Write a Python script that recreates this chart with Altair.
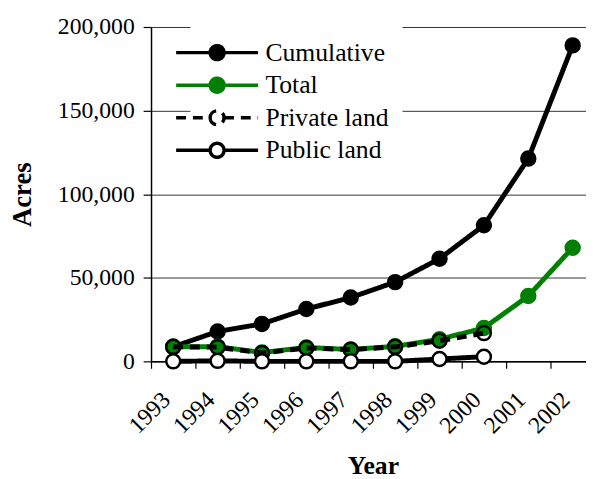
import altair as alt
import pandas as pd

years = ["1993", "1994", "1995", "1996", "1997", "1998", "1999", "2000", "2001", "2002"]
series_names = ["Cumulative", "Total", "Private land", "Public land"]
cumulative = [8700, 17900, 22400, 31300, 38200, 47400, 61400, 81400, 121300, 189000]
total = [8700, 8800, 5300, 8300, 7100, 9000, 13200, 20000, 39100, 68000]
private_land = [8700, 8500, 5000, 8000, 7000, 8700, 12300, 16900]   # 1993-2000
public_land = [0, 300, 0, 0, 0, 0, 1400, 2800]                       # 1993-2000

stroke_colors = ["#000000", "#008000", "#000000", "#000000"]
fill_colors = ["#000000", "#008000", "transparent", "#ffffff"]
dash_styles = [[1, 0], [1, 0], [10, 7], [1, 0]]

rows = []
for name, vals in zip(series_names, [cumulative, total, private_land, public_land]):
    for yr, v in zip(years, vals):
        rows.append({"Year": yr, "Series": name, "Acres": v})
df = pd.DataFrame(rows)

FONT = "'Liberation Serif', 'Times New Roman', serif"
legend_path = ("M-5,0L-0.85,0M0.85,0L5,0"
               "M-0.85,0A0.85,0.85,0,1,0,0.85,0A0.85,0.85,0,1,0,-0.85,0Z")

legend = alt.Legend(
    title=None, orient="none", legendX=40, legendY=-1,
    symbolType=legend_path, symbolSize=276, symbolStrokeWidth=3.5,
    labelFont=FONT, labelFontSize=26, labelColor="black", labelOffset=36,
    rowPadding=3, padding=14, fillColor="white",
)

x_enc = alt.X(
    "Year:O",
    scale=alt.Scale(type="band", paddingInner=0, paddingOuter=0, range=[0, 450]),
    axis=alt.Axis(
        title="Year", titleFont=FONT, titleFontSize=26, titleFontWeight="bold",
        titleColor="black", titleBaseline="middle", titleY=106,
        labelFont=FONT, labelFontSize=24, labelColor="black", labelAngle=-45,
        labelAlign="right", labelBaseline="middle", labelPadding=28, labelOffset=-7,
        tickBand="extent", tickSize=7, tickColor="black", tickWidth=1.2,
        domainColor="black", domainWidth=1.5, grid=False,
    ),
)
y_enc = alt.Y(
    "Acres:Q",
    scale=alt.Scale(domain=[0, 200000]),
    axis=alt.Axis(
        title="Acres", titleFont=FONT, titleFontSize=27, titleFontWeight="bold",
        titleColor="black", titleX=-130, titleBaseline="middle",
        values=[0, 50000, 100000, 150000, 200000], format=",.0f",
        labelFont=FONT, labelFontSize=24, labelColor="black", labelPadding=9,
        tickSize=8, tickColor="black", tickWidth=1.2,
        domainColor="black", domainWidth=1.5,
        grid=True, gridColor="#333333", gridWidth=1,
    ),
)
stroke_enc = alt.Stroke("Series:N", scale=alt.Scale(domain=series_names, range=stroke_colors), legend=legend)
fill_enc = alt.Fill("Series:N", scale=alt.Scale(domain=series_names, range=fill_colors), legend=legend)
dash_enc = alt.StrokeDash("Series:N", scale=alt.Scale(domain=series_names, range=dash_styles), legend=legend)

base = alt.Chart(df)
layers = []
for name in series_names:
    sub = base.transform_filter(alt.datum.Series == name)
    layers.append(sub.mark_line(strokeWidth=5).encode(x=x_enc, y=y_enc, stroke=stroke_enc, strokeDash=dash_enc))
    layers.append(sub.mark_point(shape="circle", size=200, strokeWidth=2.5, opacity=1).encode(
        x=x_enc, y=y_enc, fill=fill_enc, stroke=stroke_enc))

chart = alt.layer(*layers).properties(
    width=441, height=339,
    autosize=alt.AutoSizeParams(type="none"),
    padding={"left": 145, "top": 16, "right": 0, "bottom": 116},
    background="white",
).configure_view(strokeWidth=0).configure(font=FONT)

chart.save("out.html", embed_options={"renderer": "svg", "actions": False})
